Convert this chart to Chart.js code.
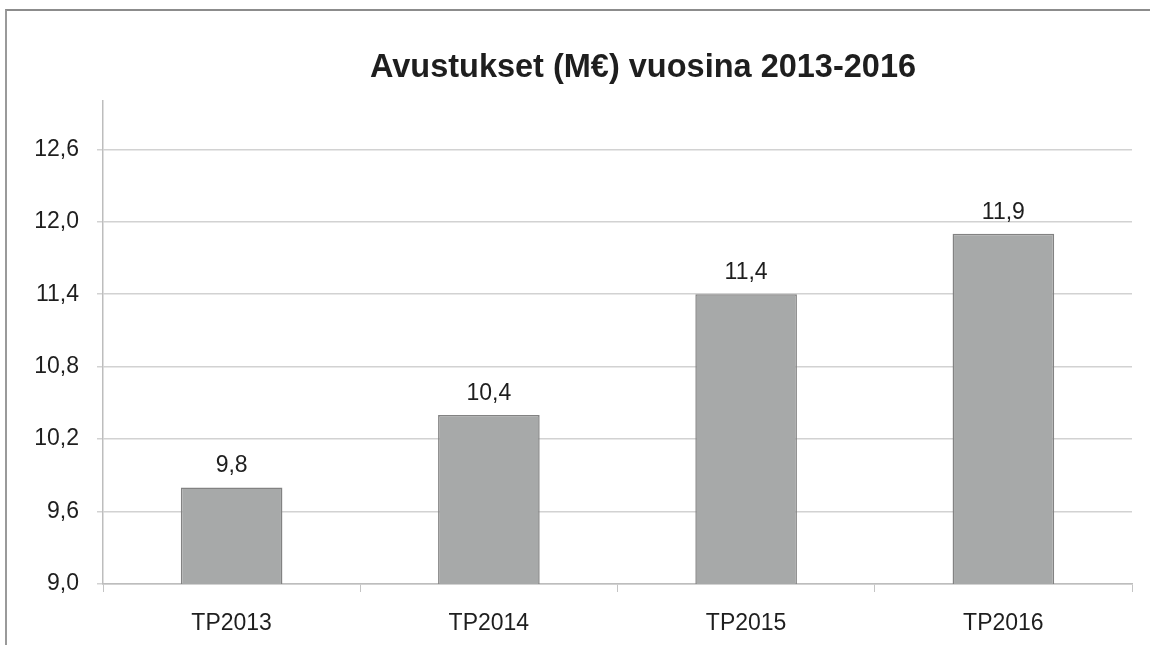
<!DOCTYPE html>
<html>
<head>
<meta charset="utf-8">
<script src="https://cdn.jsdelivr.net/npm/chart.js@4"></script>
<style>
  body { margin: 0; background: #fff; }
  #wrap { position: relative; width: 1150px; height: 645px; }
  #frame { position: absolute; left: 5px; top: 9px; right: 0; bottom: 0;
           border-left: 2px solid #9a9a9a; border-top: 2px solid #8c8c8c; }
  canvas { position: absolute; left: 0; top: 0; }
</style>
</head>
<body>
<div id="wrap">
  <div id="frame"></div>
  <canvas id="chart" width="1150" height="645"></canvas>
</div>
<script>
// --- DATOS ---
const categories = ['TP2013', 'TP2014', 'TP2015', 'TP2016'];
const values = [9.8, 10.4, 11.4, 11.9];
const yTicks = [9.0, 9.6, 10.2, 10.8, 11.4, 12.0, 12.6];
const title = 'Avustukset (M€) vuosina 2013-2016';

const fmt = v => v.toFixed(1).replace('.', ',');
const FONT = "'Liberation Sans', Arial, sans-serif";

// título y etiquetas de valor encima de cada barra
const valueLabels = {
    id: 'valueLabels',
    afterDatasetsDraw(chart) {
        const ctx = chart.ctx;
        const meta = chart.getDatasetMeta(0);
        ctx.save();
        ctx.fillStyle = '#1e1e1e';
        ctx.textAlign = 'center';
        ctx.font = 'bold 32.5px ' + FONT;
        ctx.textBaseline = 'middle';
        ctx.fillText(title, 643, 68);
        ctx.font = '23px ' + FONT;
        ctx.textBaseline = 'bottom';
        meta.data.forEach((bar, i) => {
            ctx.fillText(fmt(values[i]), bar.x, bar.y - 10);
        });
        ctx.restore();
    }
};

new Chart(document.getElementById('chart').getContext('2d'), {
    type: 'bar',
    data: {
        labels: categories,
        datasets: [{
            data: values,
            backgroundColor: '#a7a9a9',
            borderColor: '#828282',
            borderWidth: 1.5,
            barPercentage: 0.395,
            categoryPercentage: 1
        }]
    },
    options: {
        responsive: false,
        animation: false,
        layout: { padding: { left: 8, right: 18, top: 101, bottom: 0 } },
        plugins: {
            legend: { display: false },
            tooltip: { enabled: false },
            title: { display: false }
        },
        scales: {
            x: {
                afterFit: s => { s.height = 61; },
                grid: { drawOnChartArea: false, drawTicks: true, tickLength: 8, color: '#c4c4c4' },
                border: { color: '#bdbdbd', width: 1.5 },
                ticks: { color: '#1e1e1e', padding: 18, font: { family: FONT, size: 23 } }
            },
            y: {
                min: 9,
                max: 13,
                afterBuildTicks: s => { s.ticks = yTicks.map(v => ({ value: v })); },
                afterFit: s => { s.width = 95; },
                grid: { color: '#d2d2d2', lineWidth: 1.5, tickLength: 6 },
                border: { color: '#bdbdbd', width: 1.5 },
                ticks: {
                    color: '#1e1e1e',
                    padding: 18,
                    font: { family: FONT, size: 23 },
                    callback: v => fmt(v)
                }
            }
        }
    },
    plugins: [valueLabels]
});
</script>
</body>
</html>
